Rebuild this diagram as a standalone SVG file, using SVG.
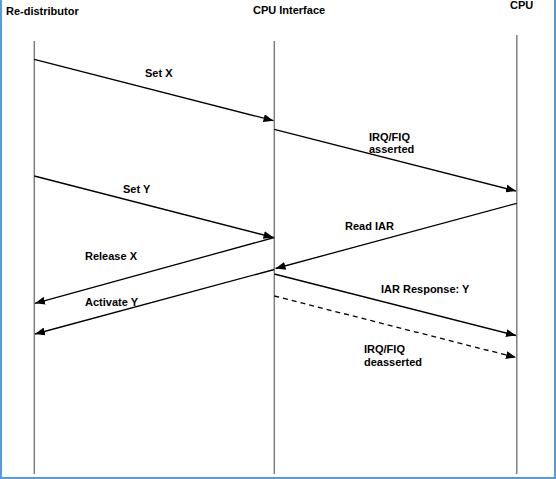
<svg xmlns="http://www.w3.org/2000/svg" width="556" height="479" viewBox="0 0 556 479">
<style>
text{font-family:"Liberation Sans",Arial,sans-serif;font-weight:bold;font-size:11px;fill:#000}
.life{stroke:#7f7f7f;stroke-width:1.5;fill:none}
.msg{stroke:#000;stroke-width:1.3;fill:none;marker-end:url(#ah)}
.dash{stroke-dasharray:5,4}
</style>
<defs>
<marker id="ah" viewBox="0 0 10 8" refX="10" refY="4" markerWidth="10" markerHeight="8" markerUnits="userSpaceOnUse" orient="auto">
<path d="M0,0 L10,4 L0,8 Z" fill="#000"/>
</marker>
</defs>
<rect width="556" height="479" fill="#fff"/>
<path d="M1,0 V478 H555 V0" fill="none" stroke="#5b9bd5" stroke-width="2"/>
<g id="redistributor">
<text x="6" y="15" font-size="11.5">Re-distributor</text>
<line class="life" x1="34.3" y1="41" x2="34.3" y2="474"/>
</g>
<g id="cpu-interface">
<text x="253" y="14" font-size="11.5">CPU Interface</text>
<line class="life" x1="274.3" y1="41" x2="274.3" y2="474"/>
</g>
<g id="cpu">
<text x="510" y="9" font-size="11.5">CPU</text>
<line class="life" x1="516.8" y1="35" x2="516.8" y2="474"/>
</g>
<g id="connectors">
<line class="msg" x1="34.3" y1="59.3" x2="273.5" y2="120.7"/>
<line class="msg" x1="274.3" y1="129.3" x2="516" y2="191"/>
<line class="msg" x1="34.3" y1="176" x2="273.5" y2="237.5"/>
<line class="msg" x1="516.8" y1="203.3" x2="275.5" y2="268.5"/>
<line class="msg" x1="274.3" y1="237.5" x2="35" y2="303.3"/>
<line class="msg" x1="274.3" y1="269.5" x2="35" y2="334"/>
<line class="msg" x1="274.3" y1="274" x2="516" y2="335.5"/>
<line class="msg dash" x1="274.3" y1="296" x2="516" y2="357.5"/>
</g>
<g id="labels">
<text x="145" y="77">Set X</text>
<text x="369" y="141">IRQ/FIQ</text>
<text x="369" y="153">asserted</text>
<text x="123" y="193">Set Y</text>
<text x="345" y="230">Read IAR</text>
<text x="85" y="260">Release X</text>
<text x="85" y="306">Activate Y</text>
<text x="381" y="293">IAR Response: Y</text>
<text x="364" y="353">IRQ/FIQ</text>
<text x="364" y="366">deasserted</text>
</g>
</svg>
